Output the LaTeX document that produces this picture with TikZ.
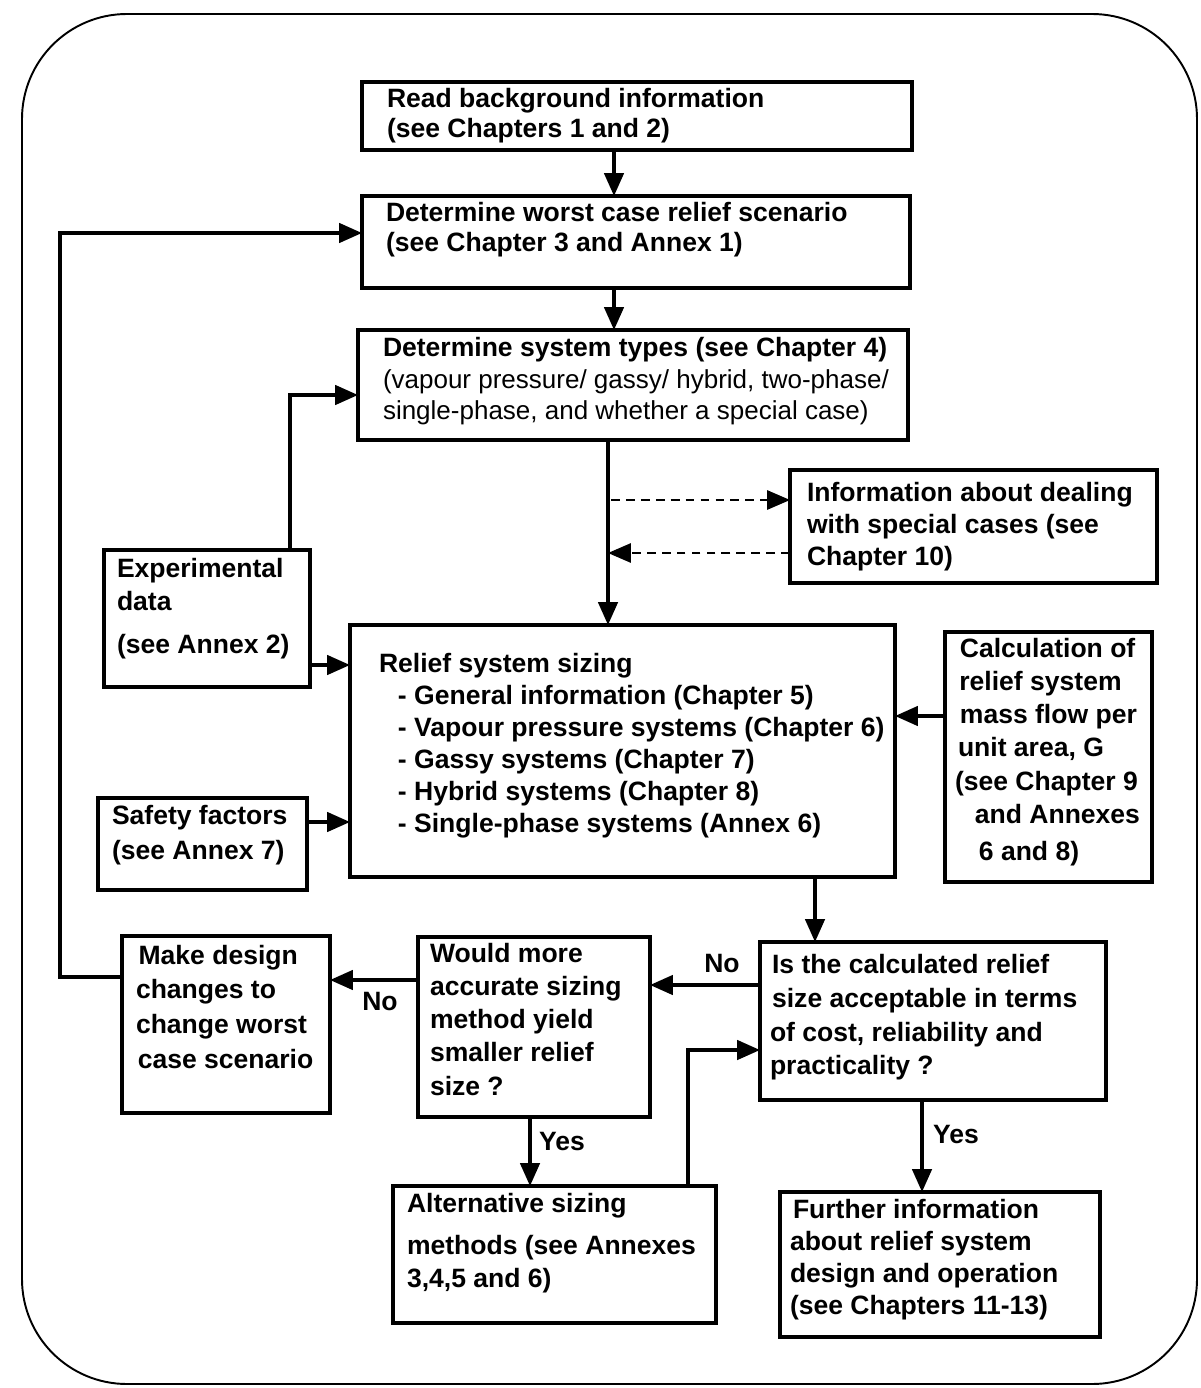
\documentclass[tikz,border=0pt]{standalone}
\usepackage{fontspec}
\setmainfont{Liberation Sans}
\usetikzlibrary{arrows.meta}
\def\pu{*0.02cm}
\newcommand{\fs}[1]{\fontsize{15.1pt}{#1}\selectfont\bfseries}
\newcommand{\rg}{\fontsize{14.8pt}{18.1pt}\selectfont\mdseries}
\begin{document}
\begin{tikzpicture}[x=0.02cm,y=-0.02cm,
  box/.style={draw, line width=1.9pt, inner sep=0pt, outer sep=0pt, anchor=north west},
  txt/.style={inner sep=0pt, outer sep=0pt, align=left, anchor=north west},
  lbl/.style={inner sep=0pt, font=\fs{18pt}},
  arr/.style={line width=1.9pt, -{Triangle[length=13pt,width=11pt]}},
  darr/.style={line width=0.9pt, dash pattern=on 5pt off 3.5pt, -{Triangle[length=13pt,width=11pt]}}]
\useasboundingbox (0,0) rectangle (1200,1388);
% outer frame
\draw[line width=1.1pt, rounded corners=2.1cm] (22,14) rectangle (1197,1384);

% boxes
\node[box, minimum width=550\pu, minimum height=68\pu]  (b1)  at (362,82)   {};
\node[box, minimum width=548\pu, minimum height=92\pu]  (b2)  at (362,196)  {};
\node[box, minimum width=550\pu, minimum height=110\pu] (b3)  at (358,330)  {};
\node[box, minimum width=367\pu, minimum height=113\pu] (b4)  at (790,470)  {};
\node[box, minimum width=206\pu, minimum height=137\pu] (b5)  at (104,550)  {};
\node[box, minimum width=545\pu, minimum height=252\pu] (b6)  at (350,625)  {};
\node[box, minimum width=207\pu, minimum height=250\pu] (b7)  at (945,632)  {};
\node[box, minimum width=209\pu, minimum height=92\pu]  (b8)  at (98,798)   {};
\node[box, minimum width=208\pu, minimum height=177\pu] (b9)  at (122,936)  {};
\node[box, minimum width=232\pu, minimum height=180\pu] (b10) at (418,937)  {};
\node[box, minimum width=346\pu, minimum height=158\pu] (b11) at (760,942)  {};
\node[box, minimum width=323\pu, minimum height=137\pu] (b12) at (393,1186) {};
\node[box, minimum width=320\pu, minimum height=145\pu] (b13) at (780,1192) {};

% box texts
\node[txt, font=\fs{17pt}] (t1) at (387,88) {Read background information\\(see Chapters 1 and 2)};
\node[txt, font=\fs{17pt}] (t2) at (386,202) {Determine worst case relief scenario\\(see Chapter 3 and Annex 1)};
\node[txt, font=\fs{18.1pt}] (t3) at (383,337) {Determine system types (see Chapter 4)\\
  \rg (vapour pressure/ gassy/ hybrid, two-phase/\\
  \rg single-phase, and whether a special case)};
\node[txt, font=\fs{18.4pt}] (t4) at (807,482) {Information about dealing\\with special cases (see\\Chapter 10)};
\node[txt, font=\fs{18.7pt}] (t5) at (117,558) {Experimental\\data\\[6.2pt](see Annex 2)};
\node[txt, font=\fs{18.3pt}] (t6) at (379,653) {Relief system sizing\\
  \hspace*{10.8pt}- General information (Chapter 5)\\
  \hspace*{10.8pt}- Vapour pressure systems (Chapter 6)\\
  \hspace*{10.8pt}- Gassy systems (Chapter 7)\\
  \hspace*{10.8pt}- Hybrid systems (Chapter 8)\\
  \hspace*{10.8pt}- Single-phase systems (Annex 6)};
\node[txt, font=\fs{18.9pt}] (t7) at (955,638) {\hspace*{2.8pt}Calculation of\\
  \hspace*{2.5pt}relief system\\
  \hspace*{2.8pt}mass flow per\\
  \hspace*{1.7pt}unit area, G\\
  (see Chapter 9\\
  \hspace*{11.3pt}and Annexes\\[2.5pt]
  \hspace*{13.6pt}6 and 8)};
\node[txt, font=\fs{19.8pt}] (t8) at (112,805) {Safety factors\\(see Annex 7)};
\node[txt, font=\fs{19.7pt}] (t9) at (136,945) {\hspace*{1.5pt}Make design\\changes to\\change worst\\\hspace*{1pt}case scenario};
\node[txt, font=\fs{18.9pt}] (t10) at (430,943) {Would more\\accurate sizing\\method yield\\smaller relief\\size ?};
\node[txt, font=\fs{19.3pt}] (t11) at (770,954) {\hspace*{1.2pt}Is the calculated relief\\\hspace*{1.2pt}size acceptable in terms\\of cost, reliability and\\practicality ?};
\node[txt, font=\fs{19.3pt}] (t12) at (407,1193) {Alternative sizing\\[4.5pt]methods (see Annexes\\3,4,5 and 6)};
\node[txt, font=\fs{18.3pt}] (t13) at (790,1199) {\hspace*{1.7pt}Further information\\about relief system\\design and operation\\(see Chapters 11-13)};

% main flow
\draw[arr] (b1.south -| 614,0) -- (b2.north -| 614,0);
\draw[arr] (b2.south -| 614,0) -- (b3.north -| 614,0);
\draw[arr] (b3.south -| 608,0) -- (b6.north -| 608,0);

% special cases (dashed)
\coordinate (d1) at (611,500);
\coordinate (d2) at (608,553);
\draw[darr] (d1) -- (d1 -| b4.west);
\draw[darr] (b4.west |- d2) -- (d2);

% inputs to system types and sizing
\draw[arr] (b5.north -| 290,0) |- (b3.west |- 0,395);
\draw[arr] (b5.east |- 0,665) -- (b6.west |- 0,665);
\draw[arr] (b8.east |- 0,822) -- (b6.west |- 0,822);
\draw[arr] (b7.west |- 0,716) -- (b6.east |- 0,716);

% decision loop
\draw[arr] (b6.south -| 815,0) -- (b11.north -| 815,0);
\draw[arr] (b11.west |- 0,985) -- (b10.east |- 0,985);
\node[lbl] (no1) at (722,963) {No};
\draw[arr] (b10.west |- 0,980) -- (b9.east |- 0,980);
\node[lbl] (no2) at (380,1001) {No};
\draw[arr] (b9.west |- 0,977) -- ++(-62,0) |- (b2.west |- 0,233);
\draw[arr] (b10.south -| 530,0) -- (b12.north -| 530,0);
\node[lbl] (yes1) at (562,1141) {Yes};
\draw[arr] (b12.north -| 688,0) |- (b11.west |- 0,1050);
\draw[arr] (b11.south -| 922,0) -- (b13.north -| 922,0);
\node[lbl] (yes2) at (956,1134) {Yes};
\end{tikzpicture}
\end{document}
